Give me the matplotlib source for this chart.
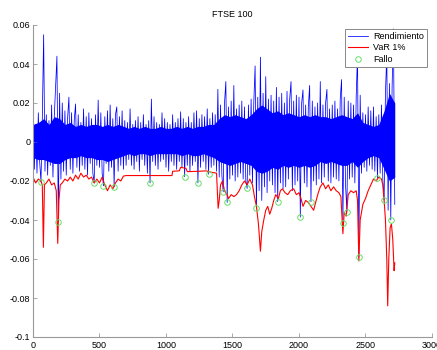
"""FTSE 100: daily returns, 1% VaR and exceedances (failures)."""
import numpy as np
import matplotlib
matplotlib.use("Agg")
import matplotlib.pyplot as plt
from matplotlib.ticker import FuncFormatter

returns_pct = [
    1.3, -1.4, 0.9, -1.6, 1.5, -1.0, -2.05, 1.2, 5.5, -1.5,
    1.4, -1.7, 1.1, -1.2, 1.9, -1.8, 1.3, 2.9, 4.4, -4.1,
    2.5, -1.9, 2.0, -1.5, 1.6, -1.7, 1.2, 2.3, -1.4, 1.5,
    -1.6, 1.1, 1.95, -1.3, 1.4, -1.5, 1.0, -1.2, 1.7, -1.4,
    1.3, -1.7, 1.5, -1.1, 1.2, -1.6, -2.1, 1.4, -1.2, 2.15,
    -1.3, 1.5, -1.6, -2.25, 1.3, -1.1, 1.6, -1.5, 1.9, -1.3,
    1.2, -2.3, 1.4, 1.8, -1.5, 1.3, -1.2, 1.6, -1.4, 1.1,
    -1.2, 1.0, -0.9, 1.7, -1.2, 0.9, -1.4, 1.1, -1.0, 1.3,
    -1.5, 1.0, -0.9, 1.4, -1.2, 0.9, -1.6, 1.1, -2.1, 2.2,
    -1.0, 1.3, -1.2, 1.0, -1.4, 0.9, -1.0, 1.5, -0.9, 1.2,
    -1.3, 1.0, -1.5, 0.9, -1.0, 1.4, -1.2, 1.0, -1.4, 1.2,
    -1.0, 1.55, -1.3, 1.2, -1.78, 1.0, -1.2, 1.3, -1.5, 1.0,
    -1.2, 1.5, -1.0, 1.6, -2.1, 1.2, -1.3, 1.4, -1.0, 1.3,
    -1.4, 1.7, -1.65, 1.2, -1.3, 1.5, -1.2, 1.4, -1.5, 2.7,
    -1.8, 1.9, -1.7, -2.55, 2.0, 3.1, -3.1, 1.8, -1.9, 2.1,
    -1.7, 2.9, -2.0, 1.7, -1.8, 1.9, -1.6, 2.1, -1.9, 1.8,
    -2.0, -2.38, 1.9, -1.7, 2.2, -2.1, 2.0, 3.9, -3.4, 2.3,
    -2.5, 4.35, -3.0, 2.5, -2.3, 3.35, -2.6, 2.2, -2.0, 2.4,
    -2.2, 2.1, -2.6, 2.8, -3.06, 2.3, -2.1, 2.5, -2.4, 2.0,
    -2.3, 2.6, -1.9, 2.2, 3.1, -2.5, 2.1, -2.2, 2.4, -2.0,
    2.3, -3.85, 2.0, 2.67, -2.1, 1.9, -2.3, 1.8, 2.9, -3.06,
    2.1, -2.0, 1.8, -2.2, 2.0, -1.9, 3.1, -2.1, 1.9, -1.8,
    2.0, 2.7, -2.0, 1.7, -2.1, 1.9, -1.8, 2.1, -1.9, 1.7,
    -2.0, 2.2, 3.2, -4.16, 2.3, -2.2, -3.57, 2.1, -1.9, 2.0,
    -1.8, 1.9, -2.1, 2.3, 4.5, -5.9, 2.4, -1.6, 1.5, -1.3,
    1.4, -1.5, 1.8, -1.2, 1.6, -1.4, 1.8, -1.5, 1.3, -1.85,
    1.4, -1.6, 1.9, -1.9, -2.98, 2.5, 4.5, -3.5, 3.0, -4.0,
    2.8, 5.8, -3.2,
]
returns_step = 10

# dense core of the return band (percent), one value every 40 observations
core_hi_pct = [
    0.9, 1.0, 1.2, 0.9, 1.3, 1.2, 0.9, 1.0, 0.8, 0.9,
    0.8, 0.9, 0.9, 0.8, 0.9, 0.8, 0.9, 0.8, 0.7, 0.8,
    0.7, 0.8, 0.7, 0.7, 0.8, 0.7, 0.7, 0.8, 0.7, 0.8,
    0.7, 0.8, 0.8, 0.9, 0.9, 1.2, 1.4, 1.3, 1.4, 1.3,
    1.2, 1.4, 1.7, 1.9, 1.7, 1.5, 1.6, 1.4, 1.5, 1.4,
    1.3, 1.4, 1.3, 1.4, 1.3, 1.3, 1.2, 1.3, 1.4, 1.3,
    1.2, 1.5, 1.0, 0.9, 0.8, 0.9, 1.6, 2.5, 2.0,
]
core_lo_pct = [
    -0.8, -0.9, -0.9, -1.0, -1.1, -1.1, -0.9, -0.8, -0.8, -0.7,
    -0.8, -0.8, -0.9, -0.9, -1.0, -0.9, -0.8, -0.7, -0.6, -0.7,
    -0.6, -0.6, -0.7, -0.6, -0.6, -0.6, -0.6, -0.6, -0.7, -0.6,
    -0.7, -0.7, -0.6, -0.7, -0.8, -1.0, -1.1, -1.2, -1.1, -1.0,
    -1.1, -1.2, -1.5, -1.6, -1.5, -1.3, -1.4, -1.2, -1.3, -1.2,
    -1.3, -1.2, -1.3, -1.2, -1.0, -1.1, -1.0, -1.1, -1.2, -1.2,
    -1.0, -1.3, -1.0, -0.8, -0.7, -0.8, -1.4, -2.0, -1.8,
]
core_step = 40

# 1% VaR line (observation, value)
var_x = [0, 20, 40, 60, 70, 78, 86, 100, 120, 140, 160, 175, 186, 195, 205,
         220, 240, 260, 280, 300, 320, 340, 360, 380, 400, 420, 440, 460, 480,
         500, 520, 540, 560, 580, 600, 620, 640, 660, 680, 700, 1045, 1050,
         1100, 1110, 1150, 1160, 1250, 1300, 1340, 1380, 1392, 1400, 1410,
         1425, 1440, 1460, 1470, 1490, 1510, 1530, 1550, 1570, 1590, 1610,
         1630, 1650, 1665, 1680, 1695, 1710, 1720, 1735, 1750, 1765, 1780,
         1795, 1810, 1825, 1845, 1860, 1875, 1895, 1915, 1935, 1960, 1980,
         2000, 2015, 2030, 2050, 2070, 2090, 2110, 2125, 2145, 2160, 2180,
         2200, 2220, 2240, 2260, 2280, 2300, 2315, 2330, 2340, 2355, 2370,
         2390, 2410, 2430, 2440, 2450, 2460, 2480, 2500, 2520, 2540, 2560,
         2580, 2600, 2620, 2630, 2640, 2650, 2660, 2667, 2675, 2685, 2695,
         2705, 2715, 2720]
var_y = [-0.018, -0.021, -0.019, -0.020, -0.022, -0.054, -0.022, -0.021,
         -0.019, -0.022, -0.021, -0.025, -0.052, -0.030, -0.022, -0.021,
         -0.019, -0.020, -0.018, -0.020, -0.017, -0.019, -0.016, -0.018,
         -0.017, -0.019, -0.018, -0.021, -0.019, -0.021, -0.018, -0.022,
         -0.025, -0.022, -0.024, -0.021, -0.019, -0.020, -0.0175, -0.0172,
         -0.0172, -0.0150, -0.0148, -0.0130, -0.0135, -0.0152, -0.0150,
         -0.0148, -0.0155, -0.016, -0.034, -0.030, -0.022, -0.020, -0.025,
         -0.027, -0.029, -0.027, -0.028, -0.027, -0.025, -0.022, -0.020,
         -0.022, -0.019, -0.022, -0.028, -0.033, -0.042, -0.056, -0.046,
         -0.040, -0.035, -0.033, -0.037, -0.034, -0.030, -0.027, -0.029,
         -0.025, -0.024, -0.026, -0.027, -0.025, -0.024, -0.027, -0.026,
         -0.029, -0.033, -0.030, -0.031, -0.033, -0.035, -0.031, -0.026,
         -0.023, -0.021, -0.024, -0.022, -0.025, -0.023, -0.025, -0.026,
         -0.028, -0.047, -0.036, -0.038, -0.027, -0.025, -0.026, -0.025,
         -0.030, -0.061, -0.040, -0.032, -0.029, -0.025, -0.022, -0.019,
         -0.020, -0.018, -0.019, -0.022, -0.030, -0.040, -0.060, -0.084,
         -0.060, -0.044, -0.042, -0.050, -0.066, -0.062]

# exceedances (return below VaR)
fail_x = [60, 190, 460, 530, 610, 880, 1140, 1240, 1320, 1430, 1460, 1610,
          1680, 1840, 2010, 2090, 2330, 2360, 2450, 2590, 2640, 2690]
fail_y = [-0.0205, -0.041, -0.021, -0.0225, -0.023, -0.021, -0.0178, -0.021,
          -0.0165, -0.0255, -0.031, -0.0238, -0.034, -0.0306, -0.0385, -0.0306,
          -0.0416, -0.0357, -0.059, -0.0185, -0.0298, -0.040]

plt.rcParams["font.family"] = ["Liberation Sans", "DejaVu Sans"]
plt.rcParams["font.size"] = 6.5

returns = np.array(returns_pct) / 100.0
days = np.arange(len(returns)) * returns_step
core_days = np.arange(len(core_hi_pct)) * core_step

fig = plt.figure(figsize=(4.37, 3.5), dpi=100)
ax = fig.add_axes([33 / 437, 1 - 337 / 350, 399 / 437, 312 / 350])

ax.fill_between(core_days, np.array(core_lo_pct) / 100.0,
                np.array(core_hi_pct) / 100.0, color="#0000ff", linewidth=0)
ax.plot(days, returns, color="#0000ff", linewidth=0.55, label="Rendimiento")
ax.plot(var_x, var_y, color="#ff0000", linewidth=0.8, label="VaR 1%")
ax.plot(fail_x, fail_y, linestyle="none", marker="o", markersize=4,
        markerfacecolor="none", markeredgecolor="#66dd66", markeredgewidth=0.7,
        label="Fallo")

ax.set_xlim(0, 3000)
ax.set_ylim(-0.1, 0.06)
ax.set_xticks(np.arange(0, 3001, 500))
ax.set_yticks(np.arange(-0.1, 0.061, 0.02))
ax.yaxis.set_major_formatter(FuncFormatter(lambda v, _: "%g" % round(v, 4)))
ax.tick_params(direction="in", length=3, width=0.6, color="#999999",
               labelsize=6.5, pad=2)
ax.tick_params(axis="x", pad=3)
for side in ("top", "right"):
    ax.spines[side].set_visible(False)
for side in ("left", "bottom"):
    ax.spines[side].set_color("#999999")
    ax.spines[side].set_linewidth(0.8)

ax.set_title("FTSE 100", fontsize=6.5, pad=6)

legend = ax.legend(loc="upper right", bbox_to_anchor=(1 - 5 / 399, 1 - 4 / 312),
                   borderaxespad=0, fontsize=6.5, fancybox=False, framealpha=1,
                   edgecolor="#888888", handlelength=2.2, labelspacing=0.25,
                   handletextpad=0.6, borderpad=0.35)
legend.get_frame().set_linewidth(0.7)

fig.savefig("out.png", dpi=100)
